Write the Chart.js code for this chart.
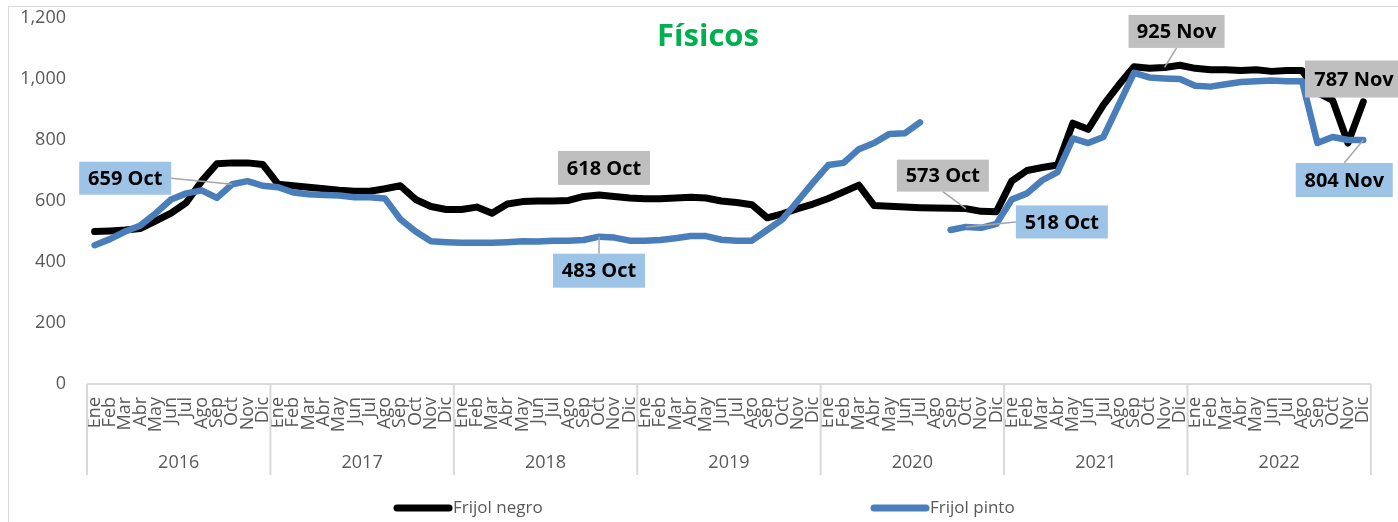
<!DOCTYPE html>
<html lang="es">
<head>
<meta charset="utf-8">
<title>Físicos</title>
<script src="https://cdn.jsdelivr.net/npm/chart.js@4.4.0/dist/chart.umd.min.js"></script>
<style>
 html, body { margin: 0; padding: 0; background: #fff; overflow: hidden; }
 #wrap { position: relative; width: 1398px; height: 522px; }
</style>
</head>
<body>
<div id="wrap"><canvas id="chart"></canvas></div>
<script>
const MONTHS = ['Ene', 'Feb', 'Mar', 'Abr', 'May', 'Jun', 'Jul', 'Ago', 'Sep', 'Oct', 'Nov', 'Dic'];
const YEARS = ['2016', '2017', '2018', '2019', '2020', '2021', '2022'];
const Y_TICKS = [0, 200, 400, 600, 800, 1000, 1200];

// Frijol negro, Ene 2016 .. Dic 2022
const NEGRO = [
 500, 502, 505, 510, 535, 560, 595, 665, 722, 725, 725, 720,
 655, 650, 645, 640, 635, 632, 632, 640, 650, 605, 582, 572,
 572, 580, 560, 590, 598, 600, 600, 602, 615, 620, 615, 610,
 607, 607, 610, 612, 610, 600, 595, 588, 545, 558, 575, 590,
 608, 630, 652, 585, 583, 580, 578, 577, 576, 575, 566, 565,
 665, 700, 710, 718, 855, 835, 915, 980, 1040, 1035, 1038, 1045,
 1035, 1030, 1030, 1028, 1030, 1025, 1028, 1028, 955, 930, 790, 925,
];

// Frijol pinto, Ene 2016 .. Dic 2022 (sin dato Ago 2020)
const PINTO = [
 455, 475, 500, 520, 560, 605, 625, 635, 610, 655, 665, 650,
 645, 628, 622, 620, 618, 612, 612, 608, 540, 500, 468, 465,
 463, 463, 463, 465, 468, 467, 470, 470, 472, 483, 480, 470,
 470, 472, 478, 485, 485, 473, 470, 470, 505, 540, 600, 660,
 718, 725, 770, 790, 820, 822, 858, null, 505, 515, 512, 525,
 605, 625, 668, 695, 805, 790, 810, 915, 1020, 1005, 1002, 1000,
 978, 975, 983, 990, 993, 995, 993, 993, 790, 810, 800, 800,
];

const labels = YEARS.flatMap(() => MONTHS);

const GREY = '#595959';
const FRAME = '#d9d9d9';
const FONT = '"Open Sans", "Liberation Sans", sans-serif';

// callouts: dataset, point index, text, box offset from point
const callouts = [
 { ds: 1, idx: 9, text: '659 Oct', dx: -107, dy: -6, w: 92, h: 33, lead: 'right' },
 { ds: 0, idx: 33, text: '618 Oct', dx: 5, dy: -27, w: 92, h: 34, lead: null },
 { ds: 1, idx: 33, text: '483 Oct', dx: 0, dy: 34, w: 92, h: 34, lead: 'top' },
 { ds: 0, idx: 57, text: '573 Oct', dx: -23, dy: -33, w: 92, h: 32, lead: 'bottom' },
 { ds: 1, idx: 57, text: '518 Oct', dx: 96, dy: -5, w: 92, h: 33, lead: 'left' },
 { ds: 0, idx: 70, text: '925 Nov', dx: 12, dy: -36, w: 96, h: 33, lead: 'bottom' },
 { ds: 0, idx: 82, text: '787 Nov', dx: 6, dy: -64, w: 98, h: 37, lead: null },
 { ds: 1, idx: 83, text: '804 Nov', dx: -19, dy: 40, w: 97, h: 34, lead: 'top' },
];

const decor = {
 id: 'decor',
 afterDatasetsDraw(chart) {
 const { ctx } = chart;
 ctx.save();
 callouts.forEach(c => {
 const pt = chart.getDatasetMeta(c.ds).data[c.idx];
 const cx = pt.x + c.dx, cy = pt.y + c.dy;
 const x0 = cx - c.w / 2, y0 = cy - c.h / 2;
 if (c.lead) {
 const a = {
 right: [x0 + c.w, cy], left: [x0, cy],
 top: [cx, y0], bottom: [cx, y0 + c.h],
 }[c.lead];
 ctx.strokeStyle = '#a6a6a6';
 ctx.lineWidth = 1.5;
 ctx.beginPath();
 ctx.moveTo(a[0], a[1]);
 ctx.lineTo(pt.x, pt.y);
 ctx.stroke();
 }
 ctx.fillStyle = c.ds === 0 ? '#bfbfbf' : '#9dc3e6';
 ctx.fillRect(x0, y0, c.w, c.h);
 ctx.fillStyle = '#000';
 ctx.font = `bold 20px ${FONT}`;
 ctx.textAlign = 'center';
 ctx.textBaseline = 'middle';
 ctx.fillText(c.text, cx, cy + 1);
 });

 // title
 ctx.fillStyle = '#00b050';
 ctx.font = `bold 31px ${FONT}`;
 ctx.textAlign = 'center';
 ctx.textBaseline = 'middle';
 ctx.fillText('Físicos', 708, 37);
 ctx.restore();
 },
 afterDraw(chart) {
 const { ctx, chartArea, scales: { x } } = chart;
 const step = x.getPixelForValue(1) - x.getPixelForValue(0);
 ctx.save();
 // outer frame
 ctx.strokeStyle = FRAME;
 ctx.lineWidth = 1;
 ctx.strokeRect(8.5, 6.5, 1500, 600);

 // category axis box
 ctx.lineWidth = 2;
 ctx.beginPath();
 ctx.moveTo(chartArea.left, chartArea.bottom);
 ctx.lineTo(chartArea.right, chartArea.bottom);
 for (let k = 0; k <= YEARS.length; k++) {
 const px = x.getPixelForValue(k * 12) - step / 2;
 ctx.moveTo(px, chartArea.bottom);
 ctx.lineTo(px, 475);
 }
 ctx.stroke();

 ctx.fillStyle = GREY;
 ctx.font = `18px ${FONT}`;
 ctx.textAlign = 'center';
 ctx.textBaseline = 'middle';
 YEARS.forEach((yr, k) => {
 const px = (x.getPixelForValue(k * 12) + x.getPixelForValue(k * 12 + 11)) / 2;
 ctx.fillText(yr, px, 463);
 });

 // legend
 const items = [[397, 0], [874, 1]];
 items.forEach(([lx, i]) => {
 const ds = chart.data.datasets[i];
 ctx.strokeStyle = ds.borderColor;
 ctx.lineWidth = 7;
 ctx.lineCap = 'round';
 ctx.beginPath();
 ctx.moveTo(lx, 508);
 ctx.lineTo(lx + 52, 508);
 ctx.stroke();
 ctx.fillStyle = GREY;
 ctx.font = `17px ${FONT}`;
 ctx.textAlign = 'left';
 ctx.fillText(ds.label, lx + 56, 508);
 });
 ctx.restore();
 },
};

new Chart(document.getElementById('chart'), {
 type: 'line',
 data: {
 labels,
 datasets: [
 {
 label: 'Frijol negro',
 data: NEGRO,
 borderColor: '#000000',
 borderWidth: 7,
 order: 1,
 },
 {
 label: 'Frijol pinto',
 data: PINTO,
 borderColor: '#4a7ebb',
 borderWidth: 6.5,
 order: 0,
 },
 ],
 },
 options: {
 responsive: true,
 maintainAspectRatio: false,
 animation: false,
 events: [],
 layout: { padding: { top: 18, right: 25, left: 0, bottom: 0 } },
 elements: {
 point: { radius: 0 },
 line: { tension: 0, borderJoinStyle: 'round', borderCapStyle: 'round', spanGaps: false },
 },
 plugins: { legend: { display: false }, tooltip: { enabled: false } },
 scales: {
 x: {
 offset: true,
 grid: { display: false, drawTicks: false },
 border: { display: false },
 ticks: {
 autoSkip: false,
 minRotation: 90,
 maxRotation: 90,
 padding: 13,
 color: GREY,
 font: { family: FONT, size: 18 },
 },
 afterFit: s => { s.height = 138; },
 },
 y: {
 min: 0,
 max: 1200,
 afterBuildTicks: s => { s.ticks = Y_TICKS.map(v => ({ value: v })); },
 grid: { display: false, drawTicks: false },
 border: { display: false },
 ticks: {
 padding: 21,
 color: GREY,
 font: { family: FONT, size: 18 },
 callback: v => v.toLocaleString('en-US'),
 },
 afterFit: s => { s.width = 87; s.paddingTop = 0; s.paddingBottom = 0; },
 },
 },
 },
 plugins: [decor],
});
</script>
</body>
</html>
